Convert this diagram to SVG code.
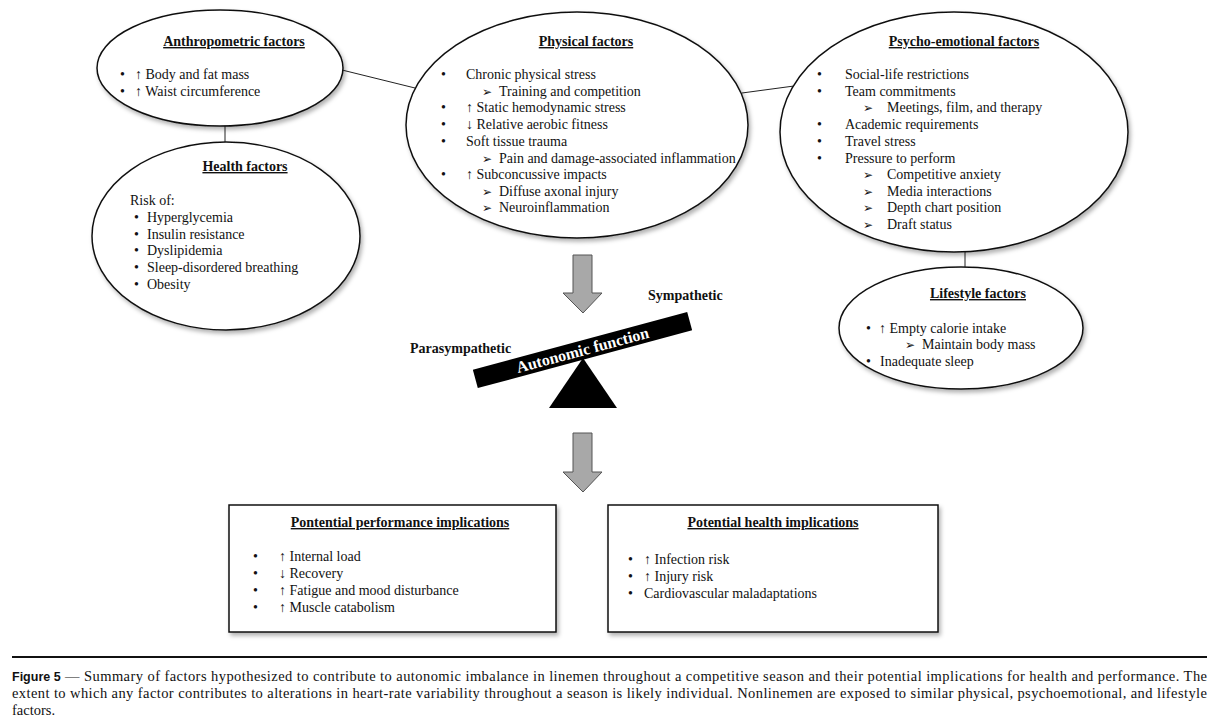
<svg xmlns="http://www.w3.org/2000/svg" width="1219" height="726" viewBox="0 0 1219 726">
<style>
.t{font-family:"Liberation Serif","Times New Roman",serif;font-size:14px;fill:#111}
.h{font-family:"Liberation Serif","Times New Roman",serif;font-size:14px;font-weight:bold;text-decoration:underline;fill:#111;text-anchor:middle}
.b{font-family:"Liberation Serif","Times New Roman",serif;font-size:14px;font-weight:bold;fill:#111}
.a{font-family:"DejaVu Sans",sans-serif;font-size:12px;fill:#111}
.e{fill:#fff;stroke:#111;stroke-width:1.5;filter:url(#sh)}
.box{fill:#fff;stroke:#111;stroke-width:1.5;filter:url(#sh)}
.c{stroke:#222;stroke-width:1;fill:none}
.ga{fill:#a8a8a8;stroke:#555;stroke-width:1}
.cap{font-family:"Liberation Serif","Times New Roman",serif;font-size:14.5px;fill:#111}
</style>
<defs>
<filter id="sh" x="-10%" y="-10%" width="125%" height="130%">
<feDropShadow dx="2" dy="3" stdDeviation="2" flood-color="#000" flood-opacity="0.3"/>
</filter>
</defs>
<rect width="1219" height="726" fill="#fff"/>

<g id="connectors">
<line class="c" x1="342" y1="70" x2="415" y2="88"/>
<line class="c" x1="742" y1="93" x2="794" y2="86"/>
<line class="c" x1="225" y1="125" x2="225" y2="143"/>
<line class="c" x1="965" y1="251" x2="965" y2="268"/>
<path class="ga" d="M573,255 H592 V293 H602 L583,313 L563,293 H573 Z"/>
<path class="ga" d="M573,433 H592 V472 H602 L583,492 L563,472 H573 Z"/>
</g>

<g id="anthropometric">
<ellipse class="e" cx="220" cy="68" rx="123" ry="58"/>
<text class="h" x="234" y="46">Anthropometric factors</text>
<text class="t" x="120" y="79">•</text><text class="t" x="135" y="79">↑ Body and fat mass</text>
<text class="t" x="120" y="96">•</text><text class="t" x="135" y="96">↑ Waist circumference</text>
</g>

<g id="physical">
<ellipse class="e" cx="577" cy="125" rx="171" ry="113"/>
<text class="h" x="586" y="46">Physical  factors</text>
<text class="t" x="441" y="79">•</text><text class="t" x="466" y="79">Chronic physical stress</text>
<text class="a" x="482" y="96">➢</text><text class="t" x="499" y="96">Training and competition</text>
<text class="t" x="441" y="112">•</text><text class="t" x="466" y="112">↑ Static hemodynamic stress</text>
<text class="t" x="441" y="129">•</text><text class="t" x="466" y="129">↓ Relative aerobic fitness</text>
<text class="t" x="441" y="146">•</text><text class="t" x="466" y="146">Soft tissue trauma</text>
<text class="a" x="482" y="163">➢</text><text class="t" x="499" y="163">Pain and damage-associated inflammation</text>
<text class="t" x="441" y="179">•</text><text class="t" x="466" y="179">↑ Subconcussive impacts</text>
<text class="a" x="482" y="196">➢</text><text class="t" x="499" y="196">Diffuse axonal injury</text>
<text class="a" x="482" y="212">➢</text><text class="t" x="499" y="212">Neuroinflammation</text>
</g>

<g id="psycho-emotional">
<ellipse class="e" cx="954" cy="132" rx="174" ry="120"/>
<text class="h" x="964" y="46">Psycho-emotional factors</text>
<text class="t" x="817" y="79">•</text><text class="t" x="845" y="79">Social-life restrictions</text>
<text class="t" x="817" y="96">•</text><text class="t" x="845" y="96">Team commitments</text>
<text class="a" x="863" y="112">➢</text><text class="t" x="887" y="112">Meetings, film, and therapy</text>
<text class="t" x="817" y="129">•</text><text class="t" x="845" y="129">Academic requirements</text>
<text class="t" x="817" y="146">•</text><text class="t" x="845" y="146">Travel stress</text>
<text class="t" x="817" y="163">•</text><text class="t" x="845" y="163">Pressure to perform</text>
<text class="a" x="863" y="179">➢</text><text class="t" x="887" y="179">Competitive anxiety</text>
<text class="a" x="863" y="196">➢</text><text class="t" x="887" y="196">Media interactions</text>
<text class="a" x="863" y="212">➢</text><text class="t" x="887" y="212">Depth chart position</text>
<text class="a" x="863" y="229">➢</text><text class="t" x="887" y="229">Draft status</text>
</g>

<g id="health-factors">
<ellipse class="e" cx="226" cy="236" rx="134" ry="94"/>
<text class="h" x="245" y="171">Health factors</text>
<text class="t" x="130" y="205">Risk of:</text>
<text class="t" x="134" y="222">•</text><text class="t" x="147" y="222">Hyperglycemia</text>
<text class="t" x="134" y="239">•</text><text class="t" x="147" y="239">Insulin resistance</text>
<text class="t" x="134" y="255">•</text><text class="t" x="147" y="255">Dyslipidemia</text>
<text class="t" x="134" y="272">•</text><text class="t" x="147" y="272">Sleep-disordered breathing</text>
<text class="t" x="134" y="289">•</text><text class="t" x="147" y="289">Obesity</text>
</g>

<g id="lifestyle">
<ellipse class="e" cx="961" cy="328" rx="122" ry="61"/>
<text class="h" x="978" y="298">Lifestyle factors</text>
<text class="t" x="866" y="333">•</text><text class="t" x="879" y="333">↑ Empty calorie intake</text>
<text class="a" x="905" y="349">➢</text><text class="t" x="922" y="349">Maintain body mass</text>
<text class="t" x="866" y="366">•</text><text class="t" x="880" y="366">Inadequate sleep</text>
</g>

<g id="autonomic">
<text class="b" x="410" y="353">Parasympathetic</text>
<text class="b" x="648" y="300">Sympathetic</text>
<polygon points="583,358 617,408 549,408" fill="#000"/>
<g transform="translate(582.5,350) rotate(-15.1)">
<rect x="-111" y="-9.5" width="222" height="19" fill="#000"/>
<text x="0" y="5.5" text-anchor="middle" style="font-family:'Liberation Serif','Times New Roman',serif;font-size:16px;font-weight:bold;fill:#fff">Autonomic function</text>
</g>
</g>

<g id="performance-implications">
<rect class="box" x="229" y="505" width="327" height="127"/>
<text class="h" x="400" y="527">Pontential performance  implications</text>
<text class="t" x="253" y="561">•</text><text class="t" x="279" y="561">↑ Internal load</text>
<text class="t" x="253" y="578">•</text><text class="t" x="279" y="578">↓ Recovery</text>
<text class="t" x="253" y="595">•</text><text class="t" x="279" y="595">↑ Fatigue  and mood disturbance</text>
<text class="t" x="253" y="612">•</text><text class="t" x="279" y="612">↑ Muscle catabolism</text>
</g>

<g id="health-implications">
<rect class="box" x="608" y="505" width="330" height="127"/>
<text class="h" x="773" y="527">Potential health  implications</text>
<text class="t" x="628" y="564">•</text><text class="t" x="644" y="564">↑ Infection risk</text>
<text class="t" x="628" y="581">•</text><text class="t" x="644" y="581">↑ Injury risk</text>
<text class="t" x="628" y="598">•</text><text class="t" x="644" y="598">Cardiovascular maladaptations</text>
</g>

<g id="caption">
<line x1="12" y1="657" x2="1207" y2="657" stroke="#111" stroke-width="2"/>
<text x="12" y="681" style="font-family:'Liberation Sans',Arial,sans-serif;font-size:12.5px;font-weight:bold;fill:#111">Figure 5</text>
<text class="cap" x="65" y="681" textLength="1142" lengthAdjust="spacing">—  Summary of factors hypothesized to contribute to autonomic imbalance in linemen throughout a competitive season and their potential implications for health and performance. The</text>
<text class="cap" x="12" y="698" textLength="1195" lengthAdjust="spacing">extent to which any factor contributes to alterations in heart-rate variability throughout a season is likely individual. Nonlinemen are exposed to similar physical, psychoemotional, and lifestyle</text>
<text class="cap" x="12" y="715">factors.</text>
</g>
</svg>
